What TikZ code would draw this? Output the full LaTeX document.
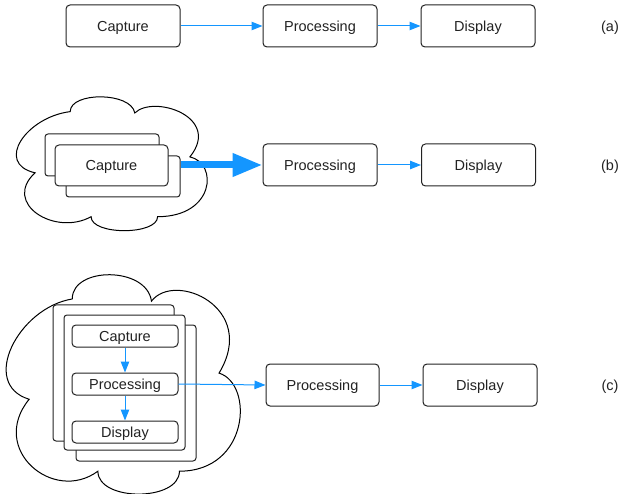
\documentclass[tikz,border=0pt]{standalone}
\usepackage{fontspec}
\setmainfont{Liberation Sans}
\usetikzlibrary{arrows.meta}
\definecolor{ablue}{RGB}{20,150,255}
\definecolor{ink}{RGB}{34,34,34}
\newcommand\drawmycloud[4]{%
  \begin{scope}[shift={(#1,#2)}, xscale=#3, yscale=#4]
    \draw[cloudline] (0.095,0.57) .. controls (-0.12,0.50) and (0.05,0.15) .. (0.28,0.11)
      .. controls (0.28,-0.04) and (0.60,-0.04) .. (0.62,0.12)
      .. controls (0.72,-0.02) and (1.08,0.15) .. (0.91,0.45)
      .. controls (1.06,0.50) and (1.04,0.90) .. (0.74,0.90)
      .. controls (0.74,1.04) and (0.39,1.04) .. (0.39,0.90)
      .. controls (0.20,1.05) and (-0.08,0.80) .. (0.095,0.57) -- cycle;
  \end{scope}}
\begin{document}
\begin{tikzpicture}[x=1pt,y=-1pt,
  box/.style={draw=ink, line width=1pt, rounded corners=4pt, fill=white,
    font=\fontsize{14.5}{17}\selectfont, text=ink, inner sep=0pt,
    text height=10.5pt, text depth=0pt},
  bigbox/.style={box, minimum width=114pt, minimum height=42pt},
  smallbox/.style={box, minimum width=106pt, minimum height=22pt},
  panel/.style={draw=ink, line width=1pt, rounded corners=3pt, fill=white, inner sep=0pt},
  lbl/.style={font=\fontsize{14.5}{17}\selectfont, text=ink, inner sep=0pt,
    text height=10.5pt, text depth=0pt},
  flow/.style={draw=ablue, line width=1pt, -{Triangle[length=11pt,width=8.5pt]}},
  bigflow/.style={draw=ablue, line width=7pt, -{Triangle[length=30pt,width=22pt]}},
  cloudline/.style={draw=black, line width=1pt}]
\useasboundingbox (0,0) rectangle (621,494);

% ---------- row (a)
\node[bigbox] (capA) at (123,26) {Capture};
\node[bigbox] (procA) at (320,26) {Processing};
\node[bigbox] (dispA) at (478,26) {Display};
\draw[flow] (capA.east) -- (procA.west);
\draw[flow] (procA.east) -- (dispA.west);
\node[lbl] (la) at (610,26) {(a)};

% ---------- row (b)
\drawmycloud{17}{97}{190}{133}
\node[panel, minimum width=114pt, minimum height=42pt] (capB1) at (102,155) {};
\node[panel, minimum width=114pt, minimum height=41pt] (capB3) at (123,176.5) {};
\node[bigbox, minimum width=113pt, minimum height=41pt] (capB) at (111.5,165.5) {Capture};
\node[bigbox] (procB) at (320,165) {Processing};
\node[bigbox] (dispB) at (478.5,165) {Display};
\coordinate (bstart) at (capB3.east |- procB.west);
\draw[bigflow] (bstart) -- (procB.west);
\draw[flow] (procB.east) -- (dispB.west);
\node[lbl] (lb) at (610,165) {(b)};

% ---------- row (c)
\drawmycloud{7}{275}{233}{218}
\node[panel, minimum width=121pt, minimum height=136pt] (panC1) at (113.5,373) {};
\node[panel, minimum width=120pt, minimum height=136pt] (panC3) at (136,393) {};
\node[panel, minimum width=121pt, minimum height=135pt] (panC2) at (124.5,382.5) {};
\node[smallbox] (capC) at (125,336) {Capture};
\node[smallbox] (procC) at (125,384) {Processing};
\node[smallbox] (dispC) at (125,432) {Display};
\draw[flow] (capC.south) -- (procC.north);
\draw[flow] (procC.south) -- (dispC.north);
\node[bigbox, minimum width=113pt] (procOut) at (322.5,385) {Processing};
\node[bigbox] (dispOut) at (480,385) {Display};
\draw[flow] (procC.east) -- (procOut.west);
\draw[flow] (procOut.east) -- (dispOut.west);
\node[lbl] (lc) at (610,385) {(c)};
\end{tikzpicture}
\end{document}
